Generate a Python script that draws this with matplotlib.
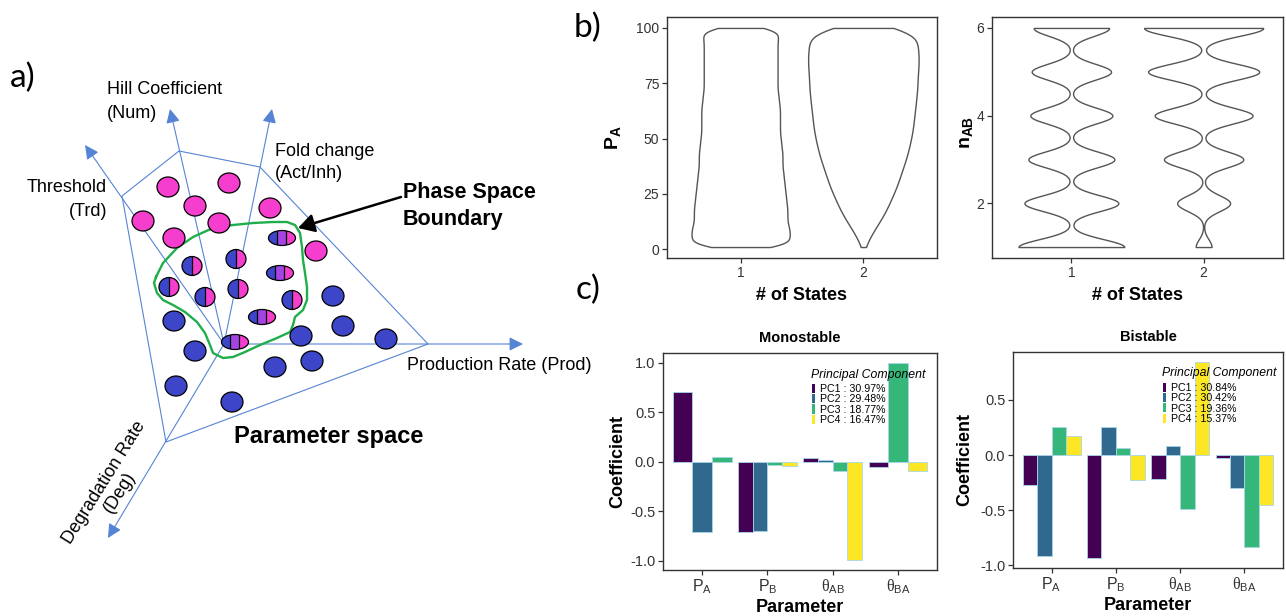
import numpy as np
import matplotlib
matplotlib.use('Agg')
import matplotlib.pyplot as plt
from matplotlib.patches import Ellipse, Rectangle, Polygon, FancyArrowPatch, Patch
from matplotlib.lines import Line2D

plt.rcParams['font.family'] = ['Liberation Sans', 'DejaVu Sans']
plt.rcParams['mathtext.fontset'] = 'custom'
plt.rcParams['mathtext.rm'] = 'Liberation Sans'
plt.rcParams['mathtext.bf'] = 'Liberation Sans:bold'
plt.rcParams['mathtext.it'] = 'Liberation Sans:italic'
plt.rcParams['mathtext.sf'] = 'Liberation Serif'
plt.rcParams['axes.unicode_minus'] = False

# ------------------------------------------------------------------ data
# Panel a: schematic of the parameter space (pixel geometry of the sketch)
sketch_origin = (224, 344)
sketch_axis_tips = [(85, 145), (170, 109), (272, 109), (523, 344), (108, 538)]
sketch_hull = [(122, 196), (179, 151), (260, 167), (428, 344), (166, 442)]
pink_states = [(168, 187), (229, 183), (195, 206), (270, 208), (143, 221),
               (219, 223), (174, 238), (316, 251)]
two_states = [(192, 266), (236, 259), (169, 287), (205, 297), (238, 289), (292, 300)]
three_states = [(282, 238), (280, 273), (262, 317), (235, 342)]
blue_states = [(333, 296), (174, 321), (343, 326), (301, 336), (386, 339),
               (195, 351), (275, 367), (312, 361), (176, 386), (232, 402)]
boundary = [(156, 277), (163, 263), (177, 248), (193, 237), (213, 228), (233, 225),
            (253, 223), (273, 222), (287, 222), (295, 225), (300, 233), (302, 247),
            (303, 260), (305, 273), (307, 287), (307, 300), (303, 310), (295, 317),
            (293, 325), (290, 332), (277, 338), (260, 345), (245, 352), (233, 357),
            (223, 358), (213, 353), (210, 345), (205, 333), (197, 322), (185, 312),
            (173, 305), (163, 300), (157, 293), (154, 283), (156, 277)]

# Panel b: P_A distribution (relative density per 5-unit band, 1..100)
pa_values = np.arange(1, 101)
pa_band_1state = [0.40, 0.395, 0.385, 0.375, 0.37, 0.36, 0.35, 0.345, 0.335, 0.33,
                  0.325, 0.32, 0.315, 0.31, 0.305, 0.30, 0.30, 0.30, 0.305, 0.31]
pa_band_2state = [0.03, 0.08, 0.14, 0.19, 0.23, 0.27, 0.30, 0.33, 0.36, 0.385,
                  0.40, 0.41, 0.42, 0.43, 0.435, 0.44, 0.45, 0.45, 0.445, 0.44]
# n_AB distribution (relative counts at each integer Hill coefficient)
nab_values = [1, 2, 3, 4, 5, 6]
nab_counts_1state = [400, 355, 325, 310, 300, 285]
nab_counts_2state = [60, 200, 300, 370, 420, 450]
states = [1, 2]

# Panel c: PCA loadings
params = [r'$\mathrm{P}_{\mathrm{A}}$', r'$\mathrm{P}_{\mathrm{B}}$',
          r'$\mathsf{\theta}_{\mathrm{AB}}$', r'$\mathsf{\theta}_{\mathrm{BA}}$']
pc_names = ['PC1', 'PC2', 'PC3', 'PC4']
mono_pc1 = [0.704, -0.71, 0.042, -0.055]
mono_pc2 = [-0.711, -0.704, 0.022, np.nan]
mono_pc3 = [0.049, -0.029, -0.096, 0.997]
mono_pc4 = [np.nan, -0.042, -0.993, -0.096]
mono_var = ['30.97%', '29.48%', '18.77%', '16.47%']
bi_pc1 = [-0.272, -0.934, -0.213, -0.027]
bi_pc2 = [-0.913, 0.257, 0.084, -0.302]
bi_pc3 = [0.251, 0.060, -0.485, -0.832]
bi_pc4 = [0.168, -0.228, 0.844, -0.452]
bi_var = ['30.84%', '30.42%', '19.36%', '15.37%']

# ------------------------------------------------------------------ styles
W, H = 1286, 616
BLUE = '#3D46C9'
PINK = '#F53DCE'
PURPLE = '#A445E3'
AXBLUE = '#5684D4'
GREEN = '#1FAE4B'
VIRIDIS = ['#440154', '#31688E', '#35B779', '#FDE725']
DARK = '#333333'

fig = plt.figure(figsize=(W / 100, H / 100), dpi=100)

# ---------------------------------------------------------------- panel a
axA = fig.add_axes([0, 0, 1, 1])
axA.set_xlim(0, W)
axA.set_ylim(H, 0)
axA.axis('off')

hull = Polygon(sketch_hull, closed=True, fill=False, ec=AXBLUE, lw=0.8, zorder=1)
axA.add_patch(hull)
for tip in sketch_axis_tips:
    arr = FancyArrowPatch(sketch_origin, tip, arrowstyle='-|>,head_length=0.7,head_width=0.35',
                          mutation_scale=12, color=AXBLUE, lw=0.8, shrinkA=0, shrinkB=0, zorder=2)
    axA.add_patch(arr)

bx, by = zip(*boundary)
axA.plot(bx, by, color=GREEN, lw=1.7, zorder=3, solid_joinstyle='round')

for (cx, cy) in pink_states:
    axA.add_patch(Ellipse((cx, cy), 22, 20, fc=PINK, ec='black', lw=0.9, zorder=5))
for (cx, cy) in blue_states:
    axA.add_patch(Ellipse((cx, cy), 22, 20, fc=BLUE, ec='black', lw=0.9, zorder=5))


def split_ellipse(cx, cy, w, h, bands):
    base = Ellipse((cx, cy), w, h, fc=bands[0][2], ec='none', zorder=5)
    axA.add_patch(base)
    for (x0, x1, col) in bands[1:]:
        r = Rectangle((cx + x0, cy - h / 2), x1 - x0, h, fc=col, ec='none', zorder=5.1)
        axA.add_patch(r)
        r.set_clip_path(base)
        ln = Line2D([cx + x0, cx + x0], [cy - h / 2, cy + h / 2], color='black', lw=0.9, zorder=5.2)
        axA.add_line(ln)
        ln.set_clip_path(base)
    axA.add_patch(Ellipse((cx, cy), w, h, fc='none', ec='black', lw=0.9, zorder=5.3))


for (cx, cy) in two_states:
    split_ellipse(cx, cy, 20, 19, [(-10, 0, BLUE), (0, 10, PINK)])
for (cx, cy) in three_states:
    split_ellipse(cx, cy, 27, 15, [(-14, -5, BLUE), (-5, 4, PURPLE), (4, 14, PINK)])

txt = dict(fontsize=13, color='black')
axA.text(107, 90, 'Hill Coefficient', ha='left', va='center', **txt)
axA.text(107, 113, '(Num)', ha='left', va='center', **txt)
axA.text(275, 152, 'Fold change', ha='left', va='center', **txt)
axA.text(275, 174, '(Act/Inh)', ha='left', va='center', **txt)
axA.text(107, 188, 'Threshold', ha='right', va='center', **txt)
axA.text(107, 212, '(Trd)', ha='right', va='center', **txt)
axA.text(407, 365, 'Production Rate (Prod)', ha='left', va='center', **txt)
axA.text(112, 487, 'Degradation Rate\n(Deg)', ha='center', va='center', rotation=58,
         multialignment='center', linespacing=1.1, rotation_mode='anchor', **txt)
axA.text(403, 206, 'Phase Space\nBoundary', ha='left', va='center', fontsize=15.5,
         fontweight='bold', linespacing=1.35)
axA.add_patch(FancyArrowPatch((401, 197), (298, 228), arrowstyle='-|>,head_length=0.7,head_width=0.4',
                              mutation_scale=14, color='black', lw=1.8, shrinkA=0, shrinkB=0, zorder=6))
axA.text(329, 437, 'Parameter space', ha='center', va='center', fontsize=17, fontweight='bold')

lab = dict(fontsize=24, family=['Lato', 'DejaVu Sans'], ha='center', va='center')
axA.text(23, 78, 'a)', **lab)
axA.text(588, 28, 'b)', **lab)
axA.text(588, 290, 'c)', **lab)


def fig_rect(l, t, r, b):
    return [l / W, 1 - b / H, (r - l) / W, (b - t) / H]


def style(ax, size):
    for s in ax.spines.values():
        s.set_color(DARK)
        s.set_linewidth(1.0)
    ax.tick_params(direction='out', length=3.5, width=0.9, color=DARK,
                   labelcolor=DARK, labelsize=size, pad=2)


def gg_limits(lo, hi, frac=0.05):
    span = hi - lo
    return lo - frac * span, hi + frac * span


# ---------------------------------------------------------------- panel b
def draw_violin(ax, samples, pos, width, sigma):
    bw = lambda kde: sigma / np.std(kde.dataset, ddof=1)
    parts = ax.violinplot([samples], positions=[pos], widths=width, showextrema=False,
                          points=600, bw_method=bw)
    for b in parts['bodies']:
        b.set_facecolor('white')
        b.set_edgecolor('#555555')
        b.set_linewidth(1.0)
        b.set_alpha(1)


axV1 = fig.add_axes(fig_rect(667, 17, 937, 258))
pa_1 = np.repeat(pa_values, np.repeat(np.round(np.array(pa_band_1state) * 100).astype(int), 5))
pa_2 = np.repeat(pa_values, np.repeat(np.round(np.array(pa_band_2state) * 100).astype(int), 5))
draw_violin(axV1, pa_1, states[0], 2 * max(pa_band_1state), 2.0)
draw_violin(axV1, pa_2, states[1], 2 * max(pa_band_2state), 3.5)
axV1.set_xlim(0.4, 2.6)
axV1.set_ylim(*gg_limits(pa_values.min(), pa_values.max()))
axV1.set_xticks(states)
axV1.set_yticks([0, 25, 50, 75, 100])
style(axV1, 10)
axV1.set_ylabel(r'$\mathbf{P}_{\mathbf{A}}$', fontsize=14, va='center')
axV1.yaxis.set_label_coords(-0.2, 0.5)
axV1.set_xlabel('# of States', fontsize=13, fontweight='bold', va='center')
axV1.xaxis.set_label_coords(0.5, -0.154)

axV2 = fig.add_axes(fig_rect(992, 17, 1283, 258))
n_1 = np.repeat(nab_values, nab_counts_1state)
n_2 = np.repeat(nab_values, nab_counts_2state)
draw_violin(axV2, n_1, states[0], 0.80, 0.18)
draw_violin(axV2, n_2, states[1], 0.90, 0.18)
axV2.set_xlim(0.4, 2.6)
axV2.set_ylim(*gg_limits(min(nab_values), max(nab_values)))
axV2.set_xticks(states)
axV2.set_yticks([2, 4, 6])
style(axV2, 10)
axV2.set_ylabel(r'$\mathbf{n}_{\mathbf{AB}}$', fontsize=14, va='center')
axV2.yaxis.set_label_coords(-0.088, 0.52)
axV2.set_xlabel('# of States', fontsize=13, fontweight='bold', va='center')
axV2.xaxis.set_label_coords(0.5, -0.154)


# ---------------------------------------------------------------- panel c
def draw_bars(ax, series, variances, title, title_pos, legend_anchor, ylabel_x):
    arr = np.array(series, dtype=float)  # (4 PCs, 4 params)
    xs = np.arange(1, arr.shape[1] + 1)
    for j, x in enumerate(xs):
        present = [i for i in range(arr.shape[0]) if not np.isnan(arr[i, j])]
        w = 0.9 / len(present)
        for k, i in enumerate(present):
            ax.bar(x - 0.45 + w * (k + 0.5), arr[i, j], width=w, color=VIRIDIS[i],
                   edgecolor='#a9d6e8', linewidth=0.6, zorder=2)
    ax.set_xlim(0.4, arr.shape[1] + 0.6)
    lo = min(0, np.nanmin(arr))
    hi = max(0, np.nanmax(arr))
    ax.set_ylim(*gg_limits(lo, hi))
    ax.set_xticks(xs)
    ax.set_xticklabels(params)
    ax.set_yticks([t for t in [-1.0, -0.5, 0.0, 0.5, 1.0] if lo - 0.1 <= t <= hi + 0.1])
    ax.yaxis.set_major_formatter(matplotlib.ticker.FormatStrFormatter('%.1f'))
    style(ax, 10.5)
    ax.tick_params(axis='x', labelsize=11.5)
    ax.text(0.5, 1.07, title, transform=ax.transAxes, ha='center', va='center',
            fontsize=10.5, fontweight='bold')
    ax.set_ylabel('Coefficient', fontsize=13, fontweight='bold', va='center')
    ax.yaxis.set_label_coords(ylabel_x, 0.5)
    ax.set_xlabel('Parameter', fontsize=13, fontweight='bold', va='center')
    ax.xaxis.set_label_coords(0.5, -0.172)
    ax.text(title_pos[0], title_pos[1], 'Principal Component', transform=ax.transAxes,
            ha='left', va='center', fontsize=8.8, style='italic', zorder=6)
    handles = [Patch(facecolor=c, edgecolor='none') for c in VIRIDIS]
    labels = [f'{p} : {v}' for p, v in zip(pc_names, variances)]
    leg = ax.legend(handles, labels, loc='upper left', bbox_to_anchor=legend_anchor,
                    frameon=False, fontsize=7.7,
                    handlelength=0.3, handleheight=0.95, handletextpad=0.5,
                    labelspacing=0.0, borderpad=0, borderaxespad=0)
    leg.set_zorder(5)


axB1 = fig.add_axes(fig_rect(663, 353, 937, 570))
draw_bars(axB1, [mono_pc1, mono_pc2, mono_pc3, mono_pc4], mono_var, 'Monostable',
          (0.540, 0.899), (0.543, 0.858), -0.164)
axB2 = fig.add_axes(fig_rect(1013, 352, 1283, 568))
draw_bars(axB2, [bi_pc1, bi_pc2, bi_pc3, bi_pc4], bi_var, 'Bistable',
          (0.552, 0.903), (0.555, 0.858), -0.18)

fig.savefig('out.png', dpi=100)
